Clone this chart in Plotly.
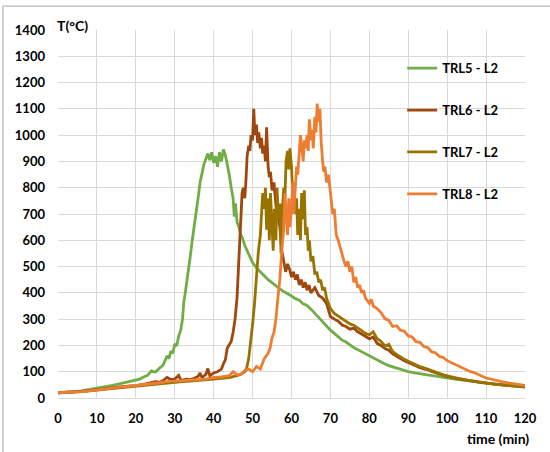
import plotly.graph_objects as go

# ---------------- data ----------------
series_names = ["TRL5 - L2", "TRL6 - L2", "TRL7 - L2", "TRL8 - L2"]

trl5_t = [0, 2, 4, 6, 8, 10, 12, 14, 16, 18, 20, 21, 22, 23, 24, 25, 26, 27, 28, 28.5, 29, 29.5,
          30, 30.5, 31, 31.5, 32, 32.3, 32.7, 33, 33.5, 34, 34.5, 35, 35.5, 36, 36.5, 37, 37.5, 38,
          38.5, 39, 39.5, 40, 40.5, 41, 41.5, 42, 42.5, 43, 43.5, 44, 44.5, 45, 45.3, 45.6, 46, 46.5,
          47, 47.5, 48, 48.5, 49, 49.5, 50, 51, 52, 53, 54, 55, 56, 57, 58, 59, 60, 61, 62, 63, 64,
          65, 66, 67, 68, 69, 70, 71, 72, 73, 74, 75, 76, 77, 78, 79, 80, 81, 82, 83, 84, 85, 86, 87,
          88, 89, 90, 92, 94, 96, 98, 100, 102, 104, 106, 108, 110, 112, 114, 116, 118, 120]
trl5_T = [20, 21, 23, 27, 32, 38, 43, 48, 55, 62, 68, 72, 80, 86, 103, 98, 112, 125, 160, 150, 178, 170,
          205, 198, 235, 255, 300, 360, 400, 430, 480, 540, 600, 650, 700, 760, 820, 860, 890, 910,
          930, 905, 935, 895, 920, 880, 935, 900, 945, 925, 890, 850, 800, 760, 690, 740, 670, 650,
          620, 605, 580, 565, 545, 530, 515, 495, 478, 465, 450, 438, 425, 415, 405, 398, 388, 378, 372, 358, 352,
          338, 322, 305, 292, 275, 258, 246, 234, 220, 213, 202, 192, 184, 176, 168, 160, 151, 142, 136, 129, 123, 118, 112,
          108, 104, 100, 95, 90, 85, 80, 76, 72, 68, 64, 60, 57, 53, 50, 47, 44, 41]

trl6_t = [0, 2, 4, 6, 8, 10, 12, 14, 16, 18, 20, 22, 24, 25, 26, 27, 28, 29, 30, 31, 31.5, 32, 33, 34,
          35, 36, 36.5, 37, 38, 38.5, 39, 40, 41, 42, 42.5, 43, 43.5, 44, 44.5, 45, 45.5, 46, 46.3, 46.6,
          47, 47.3, 47.6, 48, 48.3, 48.6, 49, 49.3, 49.6, 50, 50.3, 50.6, 51, 51.3, 51.6, 52, 52.3, 52.6,
          53, 53.3, 53.6, 54, 54.3, 54.6, 55, 55.5, 56, 56.5, 57, 57.5, 58, 58.5, 59, 59.5, 60, 60.5, 61,
          61.5, 62, 62.5, 63, 63.5, 64, 64.5, 65, 66, 67, 68, 69, 70, 71, 72, 73, 74, 75, 76, 77, 78, 79,
          80, 81, 82, 83, 84, 85, 86, 87, 88, 89, 90, 91, 92, 93, 94, 95, 96, 97, 98, 99, 100, 102, 104,
          106, 108, 110, 112, 114, 116, 118, 120]
trl6_T = [20, 21, 23, 25, 28, 32, 35, 38, 42, 45, 47, 52, 58, 62, 60, 66, 78, 70, 72, 86, 70, 68, 72, 70,
          75, 82, 95, 78, 90, 112, 85, 95, 100, 110, 130, 145, 190, 205, 215, 250, 300, 380, 480, 580,
          700, 780, 800, 760, 830, 920, 960, 940, 1000, 980, 1100, 1000, 1040, 970, 1010, 950, 990, 930,
          960, 900, 1030, 880, 840, 860, 790, 820, 730, 700, 650, 560, 520, 480, 510, 490, 460, 480, 450,
          470, 430, 450, 420, 440, 410, 430, 400, 420, 390, 380, 360, 310, 300, 292, 278, 272, 262, 266, 252, 245, 235,
          225, 232, 208, 200, 188, 182, 168, 158, 150, 142, 135, 128, 120, 115, 111, 108, 101, 96, 91, 87, 82, 76, 70,
          65, 60, 57, 53, 50, 47, 45, 42]

trl7_t = [0, 2, 4, 6, 8, 10, 12, 14, 16, 18, 20, 22, 24, 26, 28, 30, 32, 34, 36, 38, 40, 42, 44, 46, 47,
          48, 48.5, 49, 49.5, 50, 50.5, 51, 51.5, 52, 52.3, 52.6, 53, 53.3, 53.6, 54, 54.3, 54.6, 55, 55.3,
          55.6, 56, 56.3, 56.6, 57, 57.3, 57.6, 58, 58.3, 58.6, 59, 59.3, 59.6, 60, 60.3, 60.6, 61, 61.3,
          61.6, 62, 62.3, 62.6, 63, 63.3, 63.6, 64, 64.3, 64.6, 65, 65.5, 66, 66.5, 67, 67.5, 68, 68.5, 69,
          70, 71, 72, 73, 74, 75, 76, 77, 78, 79, 80, 81, 82, 83, 84, 85, 86, 87, 88, 89, 90, 91, 92, 93,
          94, 95, 96, 97, 98, 99, 100, 102, 104, 106, 108, 110, 112, 114, 116, 118, 120]
trl7_T = [20, 21, 22, 24, 27, 30, 33, 36, 40, 42, 45, 48, 52, 55, 58, 60, 62, 64, 66, 70, 72, 75, 78, 85, 90,
          100, 115, 150, 210, 280, 360, 470, 560, 620, 700, 780, 720, 800, 640, 760, 600, 780, 650, 560,
          720, 600, 800, 680, 740, 550, 700, 800, 760, 900, 940, 870, 950, 880, 780, 820, 700, 760,
          620, 720, 600, 780, 680, 790, 620, 650, 560, 600, 520, 540, 470, 480, 440, 450, 410, 420, 380,
          340, 322, 312, 302, 292, 282, 277, 268, 256, 246, 240, 252, 226, 216, 198, 204, 176, 166, 156, 147, 140, 132, 126, 120,
          116, 110, 104, 98, 93, 88, 84, 77, 71, 66, 61, 57, 53, 50, 47, 45, 42]

trl8_t = [0, 2, 4, 6, 8, 10, 12, 14, 16, 18, 20, 22, 24, 26, 28, 30, 32, 34, 36, 38, 40, 42, 44, 45, 46,
          47, 48, 49, 50, 51, 52, 53, 53.5, 54, 54.5, 55, 55.5, 56, 56.5, 57, 57.5, 58, 58.3, 58.6, 59, 59.3,
          59.6, 60, 60.3, 60.6, 61, 61.3, 61.6, 62, 62.3, 62.6, 63, 63.3, 63.6, 64, 64.3, 64.6, 65, 65.3,
          65.6, 66, 66.3, 66.6, 67, 67.3, 67.6, 68, 68.3, 68.6, 69, 69.5, 70, 70.3, 70.6, 71, 71.5, 72, 72.5,
          73, 73.5, 74, 74.5, 75, 75.5, 76, 76.5, 77, 77.5, 78, 78.5, 79, 80, 80.5, 81, 82, 83, 84, 85, 86,
          87, 88, 89, 90, 91, 92, 93, 94, 95, 96, 97, 98, 99, 100, 101, 102, 103, 104, 105, 106, 107, 108,
          109, 110, 112, 114, 116, 118, 120]
trl8_T = [20, 21, 22, 24, 27, 31, 34, 37, 41, 44, 47, 50, 55, 58, 62, 64, 66, 68, 70, 72, 78, 80, 85, 100, 88,
          90, 105, 110, 100, 120, 110, 150, 160, 170, 190, 230, 250, 300, 380, 450, 560, 640, 780, 700, 620, 760,
          650, 720, 820, 700, 800, 880, 850, 920, 1000, 960, 900, 980, 950, 1000, 940, 1060, 980, 1020,
          950, 1070, 1010, 1120, 1050, 1100, 980, 900, 860, 880, 820, 850, 780, 760, 700, 720, 620, 600, 570,
          540, 520, 500, 520, 480, 500, 440, 460, 420, 430, 400, 410, 380, 360, 375, 350, 340, 325, 302, 295, 272,
          275, 258, 254, 236, 232, 214, 212, 196, 192, 176, 172, 158, 154, 142, 135, 125, 120, 112, 106, 100, 96, 88,
          83, 76, 68, 62, 57, 52, 48]

series_t = [trl5_t, trl6_t, trl7_t, trl8_t]
series_T = [trl5_T, trl6_T, trl7_T, trl8_T]
colors = ["#70AD47", "#9E480E", "#997300", "#ED7D31"]

x_ticks = list(range(0, 121, 10))
y_ticks = list(range(0, 1401, 100))

# ---------------- figure ----------------
FONT = "Lato, 'Open Sans', sans-serif"
fig = go.Figure()
for i, (name, tt, TT, c) in enumerate(zip(series_names, series_t, series_T, colors)):
    fig.add_trace(go.Scatter(x=tt, y=TT, mode="lines", name=name,
                             line=dict(color=c, width=2.8), legendgroup=f"g{i}"))

fig.update_layout(
    width=550, height=452,
    margin=dict(l=58, r=25, t=30, b=54),
    paper_bgcolor="white", plot_bgcolor="white",
    font=dict(family=FONT, size=13, color="black"),
    showlegend=True,
    legend=dict(x=0.737, y=0.937, xanchor="left", yanchor="top",
                font=dict(family=FONT, size=13, color="black", weight="bold"),
                tracegroupgap=22, bgcolor="rgba(0,0,0,0)"),
)
fig.update_xaxes(range=[0, 120], tickvals=x_ticks, showgrid=True, gridcolor="#D9D9D9", gridwidth=1,
                 zeroline=False, showline=True, linecolor="#D9D9D9", linewidth=1, ticks="",
                 tickfont=dict(family=FONT, size=13, weight="bold"), ticklabelstandoff=8)
fig.update_yaxes(range=[0, 1400], tickvals=y_ticks, showgrid=True, gridcolor="#D9D9D9", gridwidth=1,
                 zeroline=False, showline=False, ticks="",
                 tickfont=dict(family=FONT, size=13, weight="bold"), ticklabelstandoff=12)

fig.add_annotation(text="T(°C)", xref="paper", yref="paper", x=-0.006, y=1.013,
                   xanchor="left", yanchor="middle", showarrow=False,
                   font=dict(family=FONT, size=14, weight="bold"))
fig.add_annotation(text="time (min)", xref="paper", yref="paper", x=1.013, y=-0.109,
                   xanchor="right", yanchor="middle", showarrow=False,
                   font=dict(family=FONT, size=14, weight="bold"))

# outer chart border (top and left edges visible)
fig.add_shape(type="line", xref="paper", yref="paper", x0=-0.118, x1=1.06, y0=1.065, y1=1.065,
              line=dict(color="#A6A6A6", width=1))
fig.add_shape(type="line", xref="paper", yref="paper", x0=-0.118, x1=-0.118, y0=1.065, y1=-0.15,
              line=dict(color="#A6A6A6", width=1))

fig.write_html("out.html")
